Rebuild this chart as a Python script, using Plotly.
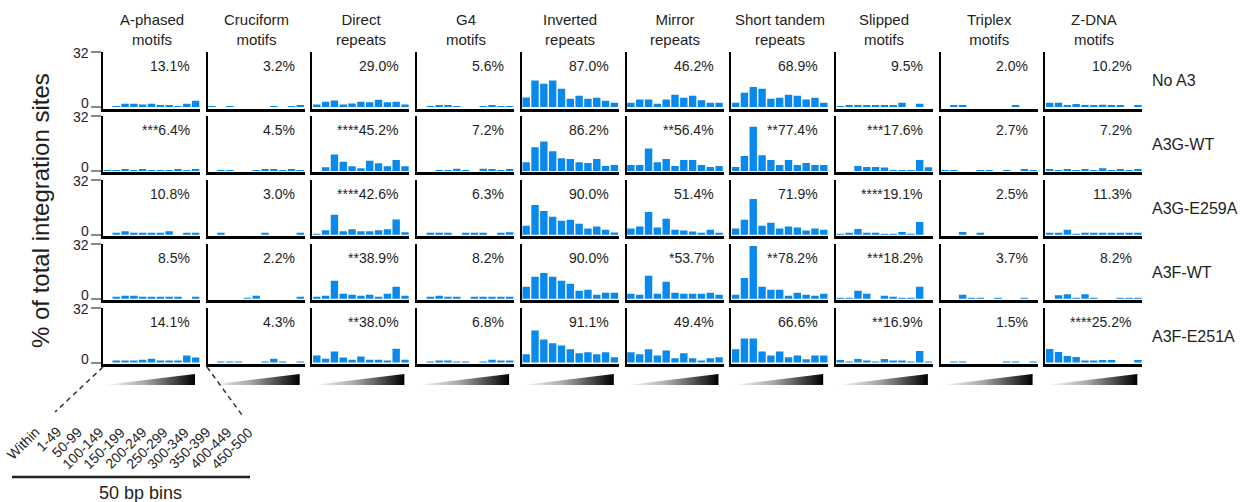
import plotly.graph_objects as go

W, H = 1243, 502

# ---------------- data ----------------
bins = ["Within", "1-49", "50-99", "100-149", "150-199", "200-249",
        "250-299", "300-349", "350-399", "400-449", "450-500"]
motifs = ["A-phased<br>motifs", "Cruciform<br>motifs", "Direct<br>repeats", "G4<br>motifs",
          "Inverted<br>repeats", "Mirror<br>repeats", "Short tandem<br>repeats",
          "Slipped<br>motifs", "Triplex<br>motifs", "Z-DNA<br>motifs"]
conditions = ["No A3", "A3G-WT", "A3G-E259A", "A3F-WT", "A3F-E251A"]

# each list: one list of 11 bin values per motif (column order as `motifs`)
vals_no_a3 = [
    [0, 0.5, 1.9, 1.9, 1.4, 1.9, 0.8, 1.1, 0.5, 1.9, 3.7],
    [0.5, 0, 0.5, 0, 0, 0, 0, 0.5, 0, 0.5, 1.2],
    [1.5, 3.0, 3.8, 1.5, 2.0, 3.0, 2.7, 4.2, 2.7, 3.0, 1.5],
    [0, 0.5, 1.2, 1.0, 0.5, 0, 0, 0.5, 1.2, 0.5, 0.5],
    [5.6, 15.4, 13.5, 15.4, 10.6, 4.8, 6.5, 4.8, 5.4, 3.6, 2.5],
    [2.5, 4.4, 4.4, 1.9, 4.4, 7.1, 5.4, 6.5, 4.0, 2.5, 2.5],
    [2.5, 8.3, 11.7, 10.6, 4.8, 5.4, 7.1, 6.5, 4.4, 5.4, 2.5],
    [0.4, 1.1, 1.1, 0.7, 0.7, 0.7, 0.7, 2.5, 0, 1.9, 0],
    [0, 0.7, 0.7, 0, 0, 0, 0, 0, 0.6, 0, 0],
    [2.5, 2.5, 0.8, 1.8, 0.8, 0.8, 1.3, 0.9, 0.8, 0, 0.6],
]
vals_a3g_wt = [
    [0.5, 0.5, 0.9, 0.5, 0.9, 0.5, 0.5, 0.5, 0.9, 0.5, 0.9],
    [0, 0.5, 0.5, 0, 0, 0.5, 0.9, 0.9, 0.5, 0.9, 0.5],
    [0, 2.1, 9.5, 5.3, 2.7, 1.5, 5.9, 4.4, 2.7, 6.4, 2.7],
    [0, 0, 0.5, 0.5, 1.3, 0.5, 0, 1.3, 1.0, 0.5, 1.0],
    [5.1, 13.7, 17.1, 11.4, 7.4, 6.9, 5.1, 4.6, 6.9, 2.9, 3.4],
    [3.4, 3.4, 13.1, 5.1, 6.9, 2.9, 6.3, 6.3, 3.4, 2.3, 2.9],
    [2.3, 8.6, 25.7, 9.1, 6.3, 3.4, 6.3, 3.4, 4.6, 3.4, 3.4],
    [0, 0, 2.9, 2.3, 2.3, 2.0, 0.4, 0.4, 0.4, 6.3, 2.1],
    [0.35, 0.35, 0, 0, 0.35, 0.35, 0, 0.35, 0, 0.8, 0.35],
    [0.8, 0.4, 0.9, 0.4, 0.9, 0.4, 1.5, 0.4, 0.9, 0.4, 0.9],
]
vals_a3g_e259a = [
    [0, 1.0, 2.0, 0.8, 0.8, 1.0, 0.8, 2.0, 0, 0.8, 1.0],
    [0, 0.8, 0, 0, 0, 0, 0.8, 0, 0, 0, 0.8],
    [0.5, 2.7, 11.7, 2.1, 3.2, 2.1, 2.1, 2.7, 3.2, 8.9, 1.5],
    [0, 0.6, 0.6, 0.6, 0, 0.6, 0.6, 0.6, 0, 0.6, 1.5],
    [5.3, 17.3, 13.9, 10.5, 8.2, 8.8, 6.5, 3.6, 4.8, 3.0, 1.3],
    [3.6, 4.8, 13.3, 4.2, 9.3, 3.0, 2.5, 1.9, 0.8, 3.0, 0.8],
    [3.6, 8.8, 20.8, 5.3, 7.0, 3.6, 4.8, 4.2, 2.5, 3.6, 3.0],
    [0.5, 1.1, 3.4, 1.1, 1.1, 0.5, 0.5, 1.7, 0.5, 7.4, 0],
    [0, 0, 1.6, 0, 0.7, 0, 0, 0, 0, 0, 0],
    [0.7, 0.7, 2.9, 0.5, 0.9, 0.9, 0.9, 0.7, 0.7, 0.7, 0.9],
]
vals_a3f_wt = [
    [0, 1.2, 1.7, 1.7, 0.6, 1.2, 0.6, 0.6, 0.6, 0, 1.2],
    [0, 0, 0, 0, 0.5, 1.7, 0, 0, 0, 0, 0.6],
    [0.6, 1.7, 10.4, 2.9, 2.3, 1.7, 2.3, 1.2, 2.9, 6.9, 1.7],
    [0, 0.6, 1.7, 1.0, 0.6, 0, 1.0, 0.6, 1.0, 0.6, 1.0],
    [6.9, 12.7, 15.0, 12.7, 10.4, 8.7, 4.6, 5.2, 2.3, 3.5, 3.5],
    [2.9, 2.3, 13.3, 2.9, 9.8, 3.5, 2.9, 2.9, 2.9, 3.5, 2.3],
    [2.3, 12.1, 30.6, 6.9, 5.2, 5.2, 1.7, 3.5, 2.3, 1.7, 2.9],
    [0.5, 0.5, 4.6, 2.9, 0, 1.7, 1.2, 0.5, 0.5, 6.9, 0],
    [0, 0, 2.3, 0.5, 0.5, 0, 0.5, 0, 0, 0.5, 0],
    [0, 2.0, 2.6, 0.5, 2.6, 0.5, 0, 0, 0.5, 0.5, 0.5],
]
vals_a3f_e251a = [
    [0, 1.2, 0.8, 1.2, 1.7, 2.3, 1.2, 0.6, 0.6, 4.2, 2.9],
    [0, 0.4, 0.4, 0.4, 0, 0, 0.4, 2.3, 0.4, 0, 0.4],
    [4.2, 2.3, 6.5, 2.9, 1.7, 3.5, 1.7, 1.7, 0.8, 8.1, 1.7],
    [0, 0.5, 1.0, 1.0, 0.5, 0.5, 0, 0.5, 1.7, 1.2, 1.2],
    [4.8, 18.7, 13.5, 11.2, 10.0, 7.7, 5.4, 6.0, 4.8, 6.0, 3.1],
    [6.0, 4.8, 7.7, 4.2, 7.1, 2.5, 5.4, 2.5, 0.8, 2.5, 3.1],
    [7.7, 14.0, 14.0, 6.5, 4.2, 6.5, 3.1, 4.2, 1.9, 4.2, 4.2],
    [1.5, 0.5, 2.1, 1.0, 0.5, 2.1, 0.7, 1.0, 0.5, 6.7, 0.5],
    [0, 0.3, 0.3, 0, 0, 0, 0, 0.3, 0.3, 0, 0.3],
    [7.9, 6.2, 3.8, 3.3, 0.7, 0.7, 1.5, 1.5, 0, 0, 1.5],
]

pct_no_a3 = ["13.1%", "3.2%", "29.0%", "5.6%", "87.0%", "46.2%", "68.9%", "9.5%", "2.0%", "10.2%"]
pct_a3g_wt = ["***6.4%", "4.5%", "****45.2%", "7.2%", "86.2%", "**56.4%", "**77.4%", "***17.6%", "2.7%", "7.2%"]
pct_a3g_e259a = ["10.8%", "3.0%", "****42.6%", "6.3%", "90.0%", "51.4%", "71.9%", "****19.1%", "2.5%", "11.3%"]
pct_a3f_wt = ["8.5%", "2.2%", "**38.9%", "8.2%", "90.0%", "*53.7%", "**78.2%", "***18.2%", "3.7%", "8.2%"]
pct_a3f_e251a = ["14.1%", "4.3%", "**38.0%", "6.8%", "91.1%", "49.4%", "66.6%", "**16.9%", "1.5%", "****25.2%"]

y_ticks = [0, 32]
y_tick_text = ["0", "32"]

all_vals = [vals_no_a3, vals_a3g_wt, vals_a3g_e259a, vals_a3f_wt, vals_a3f_e251a]
all_pct = [pct_no_a3, pct_a3g_wt, pct_a3g_e259a, pct_a3f_wt, pct_a3f_e251a]

# ---------------- layout geometry (pixels) ----------------
FONT = "Liberation Sans, Arial, sans-serif"
BLUE = "#0a89ec"
TXT = "#1e1e1e"
col_x0 = [103 + 104.7 * c for c in range(10)]
PW = 97
row_base = [107 + 63.9 * r for r in range(5)]
PH = 55
ymin = -1.5 / (PH / 32.0)

fig = go.Figure()
layout = dict(
    width=W, height=H, autosize=False,
    margin=dict(l=0, r=0, t=0, b=0),
    paper_bgcolor="white", plot_bgcolor="rgba(0,0,0,0)",
    showlegend=False, bargap=0.16,
    font=dict(family=FONT, color=TXT),
)
annotations = []
shapes = []

for r in range(5):
    base = row_base[r]
    top = base - PH
    for c in range(10):
        k = r * 10 + c + 1
        x0 = col_x0[c]
        xa = "xaxis" if k == 1 else f"xaxis{k}"
        ya = "yaxis" if k == 1 else f"yaxis{k}"
        xr = "x" if k == 1 else f"x{k}"
        yr = "y" if k == 1 else f"y{k}"
        layout[xa] = dict(
            domain=[x0 / W, (x0 + PW) / W], anchor=yr, range=[-0.5, 10.5],
            showline=True, linecolor="black", linewidth=3, showgrid=False,
            zeroline=False, showticklabels=False, ticks="", fixedrange=True,
        )
        ydict = dict(
            domain=[1 - (base + 1.5) / H, 1 - top / H], anchor=xr, range=[ymin, 32],
            showline=True, linecolor="black", linewidth=2, showgrid=False,
            zeroline=False, fixedrange=True, showticklabels=False,
        )
        if c == 0:
            ydict.update(tickvals=y_ticks, ticks="outside", ticklen=10, tickwidth=2,
                         tickcolor="#8a8a8a")
        else:
            ydict.update(ticks="")
        layout[ya] = ydict
        fig.add_trace(go.Bar(
            x=list(range(len(bins))), y=all_vals[r][c], xaxis=xr, yaxis=yr,
            marker=dict(color=BLUE, line=dict(width=0)), hoverinfo="skip",
        ))
        annotations.append(dict(
            x=x0 + PW - 8, y=top + 14, xref="x51", yref="y51", text=all_pct[r][c],
            showarrow=False, xanchor="right", yanchor="middle",
            font=dict(size=14, color=TXT, family=FONT),
        ))
    # y tick labels (0 sits a little above its tick, as in the source figure)
    annotations.append(dict(
        x=91, y=top + 1, xref="x51", yref="y51", text=y_tick_text[1],
        showarrow=False, xanchor="right", yanchor="middle",
        font=dict(size=14, color=TXT, family=FONT),
    ))
    annotations.append(dict(
        x=91, y=base - 4, xref="x51", yref="y51", text=y_tick_text[0],
        showarrow=False, xanchor="right", yanchor="middle",
        font=dict(size=14, color=TXT, family=FONT),
    ))
    annotations.append(dict(
        x=1150, y=base - PH / 2 + 1, xref="x51", yref="y51", text=conditions[r],
        showarrow=False, xanchor="left", yanchor="middle",
        font=dict(size=16, color=TXT, family=FONT),
    ))

# overlay pixel axes for decorations
layout["xaxis51"] = dict(domain=[0, 1], range=[0, W], visible=False, fixedrange=True, anchor="y51")
layout["yaxis51"] = dict(domain=[0, 1], range=[H, 0], visible=False, fixedrange=True, anchor="x51")

for c in range(10):
    x0 = col_x0[c]
    annotations.append(dict(
        x=x0 + PW / 2, y=29, xref="x51", yref="y51", text=motifs[c],
        showarrow=False, xanchor="center", yanchor="middle",
        font=dict(size=15, color=TXT, family=FONT),
    ))
    fig.add_trace(go.Scatter(
        x=[x0 + 1, x0 + 92, x0 + 92, x0 + 1], y=[385, 374, 385, 385],
        xaxis="x51", yaxis="y51", mode="lines", fill="toself",
        line=dict(width=0, color="rgba(0,0,0,0)"),
        fillgradient=dict(type="horizontal",
                          colorscale=[[0, "#ffffff"], [0.45, "#a8a8a8"], [1, "#000000"]]),
        hoverinfo="skip",
    ))

# y title
annotations.append(dict(
    x=40, y=211, xref="x51", yref="y51", text="% of total integration sites",
    textangle=-90, showarrow=False, xanchor="center", yanchor="middle",
    font=dict(size=24, color=TXT, family=FONT),
))

# bin labels
for i, b in enumerate(bins):
    annotations.append(dict(
        x=46 + 21.3 * i, y=421, xref="x51", yref="y51", text=b, textangle=-45,
        showarrow=False, xanchor="right", yanchor="top",
        font=dict(size=14, color=TXT, family=FONT),
    ))
annotations.append(dict(
    x=140, y=493, xref="x51", yref="y51", text="50 bp bins", showarrow=False,
    xanchor="center", yanchor="middle", font=dict(size=18, color=TXT, family=FONT),
))

shapes.append(dict(type="line", xref="x51", yref="y51", x0=103, y0=367, x1=55, y1=412,
                   line=dict(color="#333", width=1.5, dash="5px,4px")))
shapes.append(dict(type="line", xref="x51", yref="y51", x0=207, y0=367, x1=242, y1=415,
                   line=dict(color="#333", width=1.5, dash="5px,4px")))
shapes.append(dict(type="line", xref="x51", yref="y51", x0=12, y0=477, x1=250, y1=477,
                   line=dict(color="#222", width=2.5)))

layout["annotations"] = annotations
layout["shapes"] = shapes
fig.update_layout(**layout)
fig.write_html("out.html", config={"displayModeBar": False})
